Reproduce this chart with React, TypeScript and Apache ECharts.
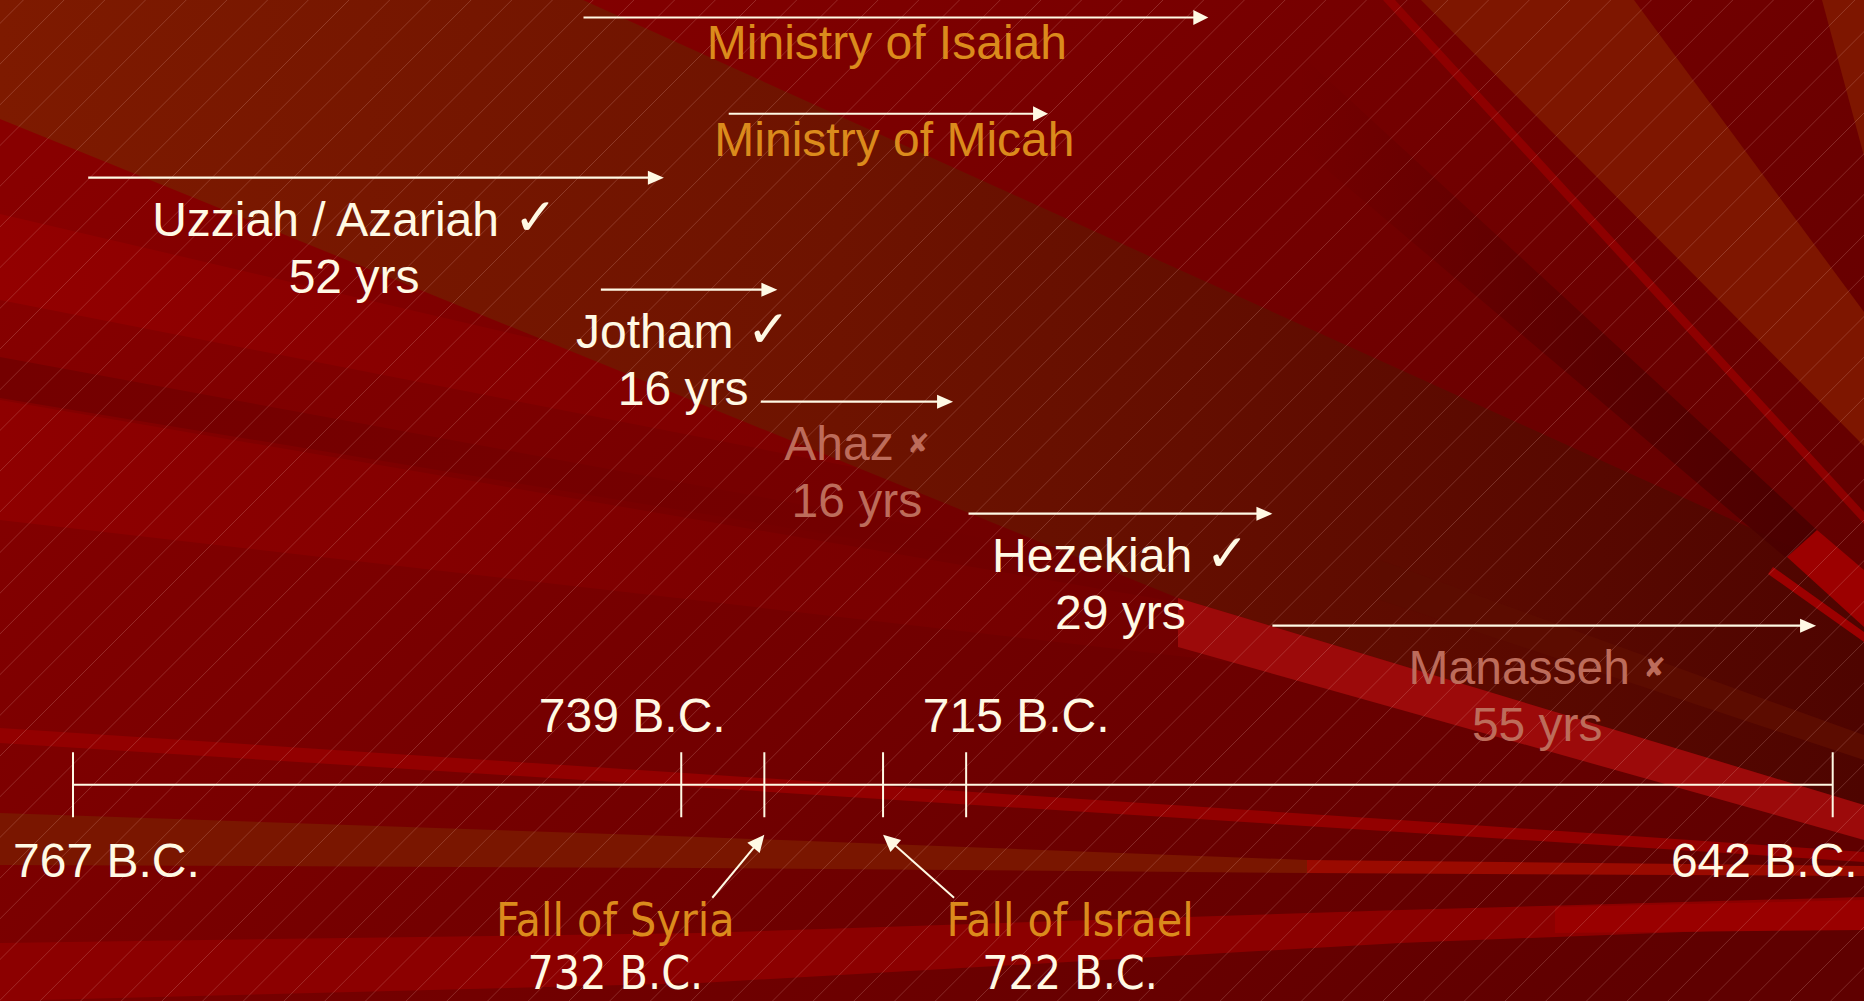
import React, { useEffect, useRef } from "react";
import * as echarts from "echarts";

// ---------------- data (years B.C.) ----------------
const reignNames = ["Uzziah / Azariah", "Jotham", "Ahaz", "Hezekiah", "Manasseh"];
const reignLengths = [52, 16, 16, 29, 55];
const reignStart = [766.3, 742.7, 732.3, 714.8, 689.2];
const reignEnd = [739.8, 730.9, 716.1, 689.2, 643.4];
const reignFaithful = [true, true, false, true, false];

const prophetNames = ["Ministry of Isaiah", "Ministry of Micah"];
const prophetStart = [743.5, 735.0];
const prophetEnd = [694.6, 708.1];

const markerYears = [767, 739, 732, 722, 715, 642];
const markerLabels = ["767 B.C.", "739 B.C.", "732 B.C.", "722 B.C.", "715 B.C.", "642 B.C."];
const eventNames = ["", "", "Fall of Syria", "Fall of Israel", "", ""];

// ---------------- layout / style ----------------
const W = 1864;
const H = 1001;
const CREAM = "#FFF9E4";
const GOLD = "#DB8B1C";
const MUTED = "#BD6C5B";
const ARIAL = "'Liberation Sans', Arial, sans-serif";
const TAHOMA = "'DejaVu Sans Condensed', 'DejaVu Sans', sans-serif";
const SYMBOL_FONT = "'DejaVu Sans', sans-serif";

// The slide draws 767–739 B.C. at a larger scale than the rest of the timeline.
const SPLIT_YEAR = 739;
const EARLY_STRETCH = 1.83;
const toAxis = (year: number) =>
  year > SPLIT_YEAR ? SPLIT_YEAR + (year - SPLIT_YEAR) * EARLY_STRETCH : year;

const PROPHET_LANES = [-0.43, 0.43];
const TIMELINE_LANE = 6.42;
const TICK_HALF = 32.5;
const KING_LABEL_SHIFT = [-22, -6, 0, 0, -7];
const PROPHET_LABEL_SHIFT = [-9, 6];

const MARKER_LAYOUT: any[] = [
  { kind: "below", dx: -60, dy: 75.5, align: "left" },
  { kind: "above", dx: -49, dy: -69.6, align: "center" },
  { kind: "event", dx: -149, tailDx: -52 },
  { kind: "event", dx: 187, tailDx: 71 },
  { kind: "above", dx: 50, dy: -69.6, align: "center" },
  { kind: "below", dx: 25, dy: 75.5, align: "right" },
];

function hArrow(x1: number, x2: number, y: number, head = 16, half = 7, lw = 2.2) {
  return [
    { type: "line", shape: { x1, y1: y, x2: x2 - head + 1, y2: y }, style: { stroke: CREAM, lineWidth: lw } },
    {
      type: "polygon",
      shape: { points: [[x2, y], [x2 - head, y - half], [x2 - head, y + half]] },
      style: { fill: CREAM },
    },
  ];
}

function pointer(tx: number, ty: number, px: number, py: number, head = 17, half = 8) {
  const dx = px - tx;
  const dy = py - ty;
  const len = Math.sqrt(dx * dx + dy * dy);
  const ux = dx / len;
  const uy = dy / len;
  const bx = px - ux * head;
  const by = py - uy * head;
  return [
    { type: "line", shape: { x1: tx, y1: ty, x2: bx + ux, y2: by + uy }, style: { stroke: CREAM, lineWidth: 2 } },
    {
      type: "polygon",
      shape: { points: [[px, py], [bx - uy * half, by + ux * half], [bx + uy * half, by - ux * half]] },
      style: { fill: CREAM },
    },
  ];
}

// ---------------- decorative background (slide rays) ----------------
const fade = (c: string, x2 = 1) => ({
  type: "linear", x: 0, y: 0, x2, y2: 0,
  colorStops: [{ offset: 0, color: c }, { offset: 1, color: "rgba(110,0,0,0)" }],
});
const hgrad = (stops: [number, string][]) => ({
  type: "linear", x: 0, y: 0, x2: 1, y2: 0,
  colorStops: stops.map(([offset, color]) => ({ offset, color })),
});
const BEAMS: any[] = [
  { p: [[0, 214], [1864, 650], [1864, 665], [0, 300]], c: fade("#930000") },
  { p: [[0, 400], [1864, 720], [1864, 735], [0, 520]], c: fade("#8f0000") },
  { p: [[0, 357], [1864, 700], [1864, 705], [0, 398]], c: fade("#740000") },
  {
    p: [[0, 0], [583, 0], [1819, 559], [1864, 583], [1864, 805], [1178, 598], [0, 119]],
    c: hgrad([[0, "#7e1a00"], [0.45, "#6e1300"], [0.75, "#5e0b00"], [1, "#4e0400"]]),
  },
  { p: [[1300, 54], [1300, 147], [1786, 558], [1818, 531]], c: hgrad([[0, "rgba(80,0,0,0)"], [1, "#4a0000"]]) },
  { p: [[1817, 530], [1864, 570], [1864, 627], [1787, 557]], c: "#9c0000" },
  { p: [[1773, 567], [1864, 632], [1864, 642], [1768, 574]], c: "#9c0000" },
  { p: [[1421, 0], [1634, 0], [1864, 312], [1864, 446]], c: "#7e1600" },
  { p: [[1822, 0], [1864, 0], [1864, 156]], c: "#7e1600" },
  { p: [[1383, 0], [1395, 0], [1864, 512], [1864, 524]], c: "#8e0000" },
  { p: [[1380, 560], [1864, 735], [1864, 760], [1380, 600]], c: "#5c0c00" },
  { p: [[1178, 598], [1864, 805], [1864, 840], [1178, 647]], c: "#9c0a0a" },
  { p: [[0, 728], [1400, 820], [1864, 852], [1864, 862], [1400, 832], [0, 743]], c: "#930000" },
  { p: [[0, 813], [700, 837], [1307, 860], [1307, 873], [700, 868], [0, 865]], c: "#7a1600" },
  { p: [[1307, 860], [1864, 866], [1864, 876], [1307, 873]], c: "#9a0a00" },
  { p: [[0, 943], [700, 933], [1400, 910], [1864, 897], [1864, 925], [1400, 943], [700, 983], [0, 1001]], c: "#8c0000" },
  { p: [[1555, 907], [1864, 900], [1864, 930], [1555, 933]], c: "#9a0000" },
];

const HATCH_STEP = 40.7;
const HATCH_PHASE = 23.4;

function backgroundElements() {
  const els: any[] = [
    {
      type: "rect", silent: true, z: 0,
      shape: { x: 0, y: 0, width: W, height: H },
      style: {
        fill: {
          type: "linear", x: 0, y: 0.2, x2: 1, y2: 0.8,
          colorStops: [{ offset: 0, color: "#880000" }, { offset: 1, color: "#5f0000" }],
        },
      },
    },
  ];
  BEAMS.forEach((b) => {
    els.push({ type: "polygon", silent: true, z: 0, shape: { points: b.p }, style: { fill: b.c } });
  });
  for (let c = HATCH_PHASE; c < W + H; c += HATCH_STEP) {
    els.push({
      type: "line", silent: true, z: 0,
      shape: { x1: c, y1: 0, x2: c - H, y2: H },
      style: { stroke: "rgba(255,205,195,0.2)", lineWidth: 1 },
    });
  }
  return els;
}

function buildOption() {
  const kingRich = {
    n: { fill: CREAM, fontSize: 48, fontFamily: ARIAL, lineHeight: 57.3 },
    c: { fill: CREAM, fontSize: 52, fontFamily: SYMBOL_FONT, lineHeight: 42.5, verticalAlign: "top" },
    m: { fill: MUTED, fontSize: 48, fontFamily: ARIAL, lineHeight: 57.3 },
    x: { fill: MUTED, fontSize: 27, fontWeight: "bold", fontFamily: SYMBOL_FONT, lineHeight: 57.3 },
  };
  const EVENT_FS = 46;
  const EVENT_LH = 53.8;

  return {
    animation: false,
    backgroundColor: "#7a0000",
    graphic: { elements: backgroundElements() },
    grid: { left: 73, right: 31.3, top: 65.7, bottom: 39.3 },
    xAxis: { type: "value", inverse: true, min: toAxis(642), max: toAxis(767), show: false },
    yAxis: { type: "value", inverse: true, min: 0, max: 8, show: false },
    series: [
      {
        type: "line",
        name: "timeline",
        silent: true,
        z: 5,
        symbol: "none",
        clip: false,
        lineStyle: { color: CREAM, width: 2 },
        data: [
          [toAxis(markerYears[0]), TIMELINE_LANE],
          [toAxis(markerYears[markerYears.length - 1]), TIMELINE_LANE],
        ],
      },
      {
        type: "custom",
        name: "reigns",
        silent: true,
        z: 6,
        clip: false,
        encode: { x: [0, 1], y: 2 },
        data: reignNames.map((_, i) => [toAxis(reignStart[i]), toAxis(reignEnd[i]), i + 1]),
        renderItem: (params: any, api: any) => {
          const i = params.dataIndex;
          const s = api.coord([api.value(0), api.value(2)]);
          const e = api.coord([api.value(1), api.value(2)]);
          const good = reignFaithful[i];
          const text = good
            ? `{n|${reignNames[i]}} {c|✓}\n{n|${reignLengths[i]} yrs}`
            : `{m|${reignNames[i]}} {x|✘}\n{m|${reignLengths[i]} yrs}`;
          return {
            type: "group",
            children: [
              ...hArrow(s[0], e[0], s[1]),
              {
                type: "text",
                x: (s[0] + e[0]) / 2 + KING_LABEL_SHIFT[i],
                y: s[1] + 13,
                style: {
                  text,
                  align: "center",
                  verticalAlign: "top",
                  fontSize: 48,
                  fontFamily: ARIAL,
                  lineHeight: 57.3,
                  fill: good ? CREAM : MUTED,
                  rich: kingRich,
                },
              },
            ],
          };
        },
      },
      {
        type: "custom",
        name: "prophets",
        silent: true,
        z: 6,
        clip: false,
        encode: { x: [0, 1], y: 2 },
        data: prophetNames.map((_, i) => [toAxis(prophetStart[i]), toAxis(prophetEnd[i]), PROPHET_LANES[i]]),
        renderItem: (params: any, api: any) => {
          const i = params.dataIndex;
          const s = api.coord([api.value(0), api.value(2)]);
          const e = api.coord([api.value(1), api.value(2)]);
          return {
            type: "group",
            children: [
              ...hArrow(s[0], e[0], s[1], 15, 7.5, 2),
              {
                type: "text",
                x: (s[0] + e[0]) / 2 + PROPHET_LABEL_SHIFT[i],
                y: s[1] + 25.4,
                style: {
                  text: prophetNames[i],
                  align: "center",
                  verticalAlign: "middle",
                  fontSize: 48,
                  fontFamily: ARIAL,
                  fill: GOLD,
                },
              },
            ],
          };
        },
      },
      {
        type: "custom",
        name: "markers",
        silent: true,
        z: 6,
        clip: false,
        encode: { x: 0, y: 1 },
        data: markerYears.map((y) => [toAxis(y), TIMELINE_LANE]),
        renderItem: (params: any, api: any) => {
          const i = params.dataIndex;
          const p = api.coord([api.value(0), api.value(1)]);
          const x = p[0];
          const y = p[1];
          const L = MARKER_LAYOUT[i];
          const children: any[] = [
            { type: "line", shape: { x1: x, y1: y - TICK_HALF, x2: x, y2: y + TICK_HALF }, style: { stroke: CREAM, lineWidth: 2 } },
          ];
          if (L.kind === "event") {
            children.push(...pointer(x + L.tailDx, y + 113, x, y + 50));
            children.push({
              type: "text",
              x: x + L.dx,
              y: y + 108,
              style: {
                text: `{e|${eventNames[i]}}\n{d|${markerLabels[i]}}`,
                align: "center",
                verticalAlign: "top",
                fontSize: EVENT_FS,
                fontFamily: TAHOMA,
                lineHeight: EVENT_LH,
                rich: {
                  e: { fill: GOLD, fontSize: EVENT_FS, fontFamily: TAHOMA, lineHeight: EVENT_LH },
                  d: { fill: CREAM, fontSize: EVENT_FS, fontFamily: TAHOMA, lineHeight: EVENT_LH },
                },
              },
            });
          } else {
            children.push({
              type: "text",
              x: x + L.dx,
              y: y + L.dy,
              style: {
                text: markerLabels[i],
                align: L.align,
                verticalAlign: "middle",
                fontSize: 48,
                fontFamily: ARIAL,
                fill: CREAM,
              },
            });
          }
          return { type: "group", children };
        },
      },
    ],
  };
}

export default function App() {
  const ref = useRef<HTMLDivElement>(null);
  useEffect(() => {
    if (!ref.current) return;
    const chart = echarts.init(ref.current, null, { renderer: "svg" });
    chart.setOption(buildOption() as any);
    return () => chart.dispose();
  }, []);
  return (
    <div
      ref={ref}
      style={{ position: "fixed", left: 0, top: 0, width: W + "px", height: H + "px", overflow: "hidden" }}
    />
  );
}
